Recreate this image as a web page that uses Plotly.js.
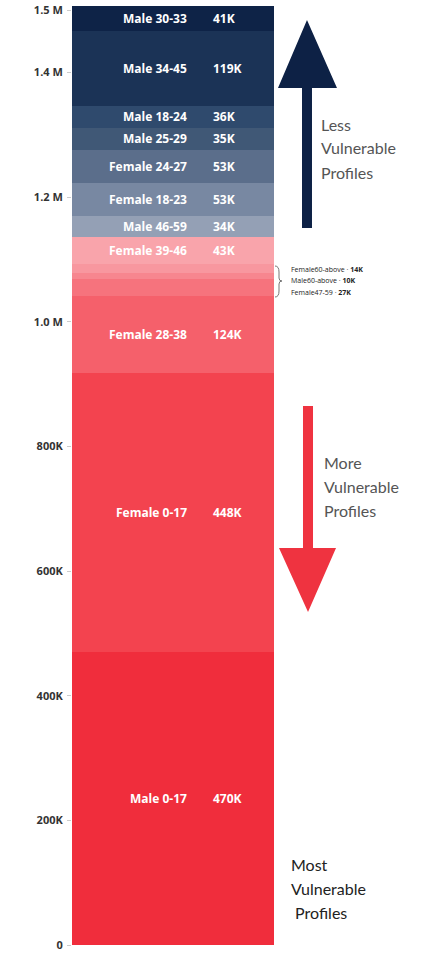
<!DOCTYPE html>
<html>
<head>
<meta charset="utf-8">
<script src="https://cdn.plot.ly/plotly-3.0.1.min.js"></script>
<style>html,body{margin:0;padding:0;background:#fff;}#chart{width:436px;height:954px;}</style>
</head>
<body>
<div id="chart"></div>
<script>
// Segments, bottom to top
var segments = ["Male 0-17","Female 0-17","Female 28-38","Female47-59","Male60-above","Female60-above","Female 39-46","Male 46-59","Female 18-23","Female 24-27","Male 25-29","Male 18-24","Male 34-45","Male 30-33"];
var values = [470000,448000,124000,27000,10000,14000,43000,34000,53000,53000,35000,36000,119000,41000];
var valueLabels = ["470K","448K","124K","27K","10K","14K","43K","34K","53K","53K","35K","36K","119K","41K"];
var showInside = [true,true,true,false,false,false,true,true,true,true,true,true,true,true];
var colors = ["#f02d3c","#f3434f","#f5606b","#f6737d","#f7868f","#f8979f","#f9a4ab","#94a0b5","#7888a2","#5b6e8b","#405876","#2f4a6d","#1b3356","#0e2347"];
var tickVals = [0,200000,400000,600000,800000,1000000,1200000,1400000,1500000];
var tickText = ["0","200K","400K","600K","800K","1.0 M","1.2 M","1.4 M","1.5 M"];
var sideNotes = ["Female60-above","Male60-above","Female47-59"];
var sideNoteValues = ["14K","10K","27K"];

var L = 72, W = 364, T = 4, B = 945, H = B - T;
function xp(px){ return (px - L) / W; }
function yp(py){ return (B - py) / H; }

var traces = segments.map(function(s, i){
  return {type:"bar", x:["all"], y:[values[i]], name:s, marker:{color:colors[i], line:{width:0}},
          width:1, hoverinfo:"name+y", showlegend:false};
});

var annotations = [];
var cum = 0;
var tf = {family:"Open Sans, Lato, sans-serif", size:12, color:"#ffffff", weight:700};
segments.forEach(function(s, i){
  var mid = cum + values[i] / 2;
  cum += values[i];
  if (!showInside[i]) return;
  annotations.push({xref:"x", yref:"y", x:0.08, y:mid, text:"<b>"+s+"</b>", showarrow:false, xanchor:"right", yanchor:"middle", font:tf});
  annotations.push({xref:"x", yref:"y", x:0.19, y:mid, text:"<b>"+valueLabels[i]+"</b>", showarrow:false, xanchor:"left", yanchor:"middle", font:tf});
});

// side notes for thin segments
var noteY = [269, 280, 292];
sideNotes.forEach(function(n, i){
  annotations.push({xref:"paper", yref:"paper", x:xp(289), y:yp(noteY[i]), text:n+" · <b>"+sideNoteValues[i]+"</b>", showarrow:false, xanchor:"left", yanchor:"middle",
    font:{family:"Open Sans, sans-serif", size:7, color:"#222"}});
});

function lines(arr, px, pys, color){
  arr.forEach(function(t, i){
    annotations.push({xref:"paper", yref:"paper", x:xp(px), y:yp(pys[i]), text:t, showarrow:false, xanchor:"left", yanchor:"middle",
      font:{family:"Lato, Open Sans, sans-serif", size:16, color:color}});
  });
}
lines(["Less","Vulnerable","Profiles"], 319, [125,148,172], "#555");
lines(["More","Vulnerable","Profiles"], 322, [463,486,510], "#555");
lines(["Most","Vulnerable"," Profiles"], 289, [864,888,912], "#222");

function P(pts){
  return "M " + pts.map(function(p){ return xp(p[0]).toFixed(4)+","+yp(p[1]).toFixed(4); }).join(" L ") + " Z";
}
var shapes = [
  {type:"path", xref:"paper", yref:"paper", path:P([[302,228],[302,88],[278,88],[307,20],[337,88],[312,88],[312,228]]), fillcolor:"#0d2145", line:{width:0}},
  {type:"path", xref:"paper", yref:"paper", path:P([[303,406],[313,406],[313,548],[336,548],[308,612],[279,548],[303,548]]), fillcolor:"#ef3340", line:{width:0}},
  {type:"path", xref:"paper", yref:"paper",
   path:"M "+xp(275)+","+yp(266)+" Q "+xp(279)+","+yp(266)+" "+xp(279)+","+yp(272)+" L "+xp(279)+","+yp(278)+" Q "+xp(279)+","+yp(281)+" "+xp(282)+","+yp(281)+" Q "+xp(279)+","+yp(281)+" "+xp(279)+","+yp(284)+" L "+xp(279)+","+yp(291)+" Q "+xp(279)+","+yp(297)+" "+xp(275)+","+yp(297),
   line:{color:"#777", width:1}}
];

var layout = {
  width:436, height:954,
  margin:{l:L, r:436-L-W, t:T, b:954-B},
  barmode:"stack", bargap:0,
  paper_bgcolor:"#fff", plot_bgcolor:"#fff",
  xaxis:{range:[-0.5,1.302], showticklabels:false, showgrid:false, zeroline:false, showline:false, fixedrange:true},
  yaxis:{range:[0,1510000], tickvals:tickVals, ticktext:tickText, showgrid:false, zeroline:false, showline:false,
         ticks:"outside", ticklen:4, tickcolor:"#ccc", ticklabelstandoff:2, ticklabeloverflow:"allow",
         tickfont:{family:"Open Sans, sans-serif", size:11, color:"#333", weight:700}},
  annotations:annotations, shapes:shapes, showlegend:false
};
Plotly.newPlot("chart", traces, layout, {displayModeBar:false, staticPlot:true});
</script>
</body>
</html>
